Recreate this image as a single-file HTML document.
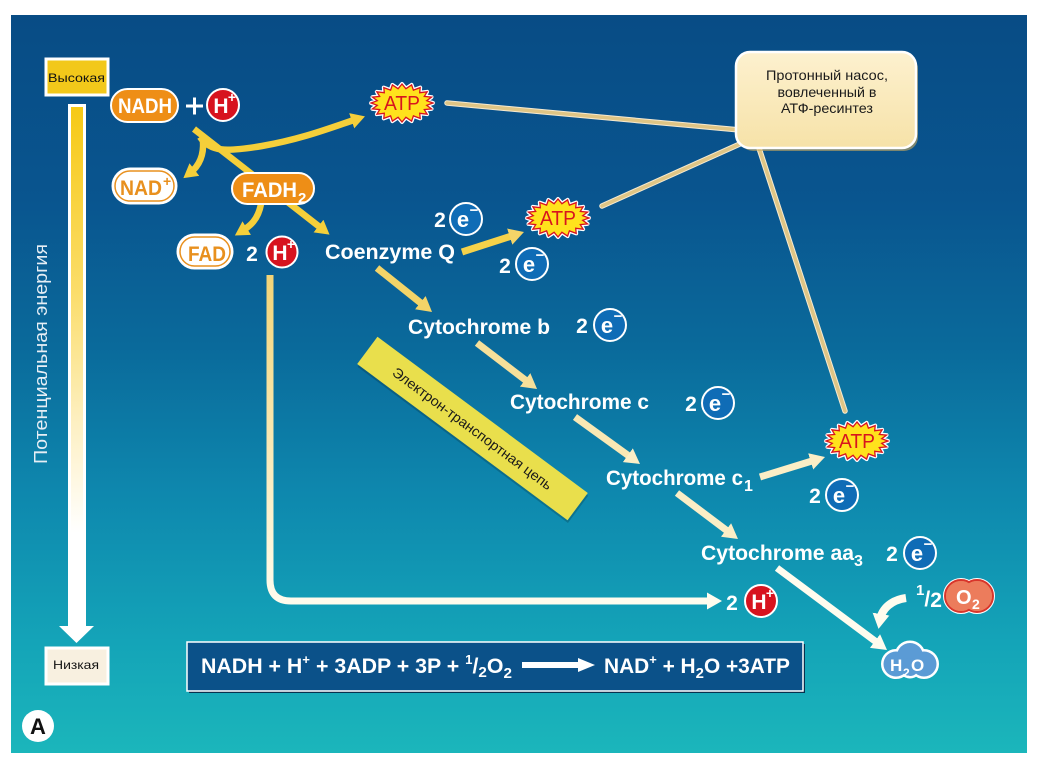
<!DOCTYPE html>
<html><head><meta charset="utf-8"><style>
html,body{margin:0;padding:0;background:#fff;}
svg{display:block;}
text{font-family:"Liberation Sans","DejaVu Sans",sans-serif;}
</style></head><body>
<svg width="1044" height="772" viewBox="0 0 1044 772" xmlns="http://www.w3.org/2000/svg">
<defs>
<linearGradient id="bg" x1="0" y1="15" x2="0" y2="753" gradientUnits="userSpaceOnUse">
<stop offset="0" stop-color="#084c85"/>
<stop offset="0.25" stop-color="#09558f"/>
<stop offset="0.45" stop-color="#0a6a9b"/>
<stop offset="0.65" stop-color="#0e88ae"/>
<stop offset="0.85" stop-color="#14a4b8"/>
<stop offset="1" stop-color="#1bb6bb"/>
</linearGradient>
<linearGradient id="bar" x1="0" y1="104" x2="0" y2="640" gradientUnits="userSpaceOnUse">
<stop offset="0" stop-color="#f6c914"/>
<stop offset="0.35" stop-color="#fbdd6a"/>
<stop offset="0.6" stop-color="#fdf0c4"/>
<stop offset="0.8" stop-color="#ffffff"/>
<stop offset="1" stop-color="#ffffff"/>
</linearGradient>
<linearGradient id="hline" x1="0" y1="275" x2="0" y2="600" gradientUnits="userSpaceOnUse">
<stop offset="0" stop-color="#f3d477"/>
<stop offset="1" stop-color="#fffbec"/>
</linearGradient>
<linearGradient id="call" x1="0" y1="52" x2="0" y2="148" gradientUnits="userSpaceOnUse">
<stop offset="0" stop-color="#fdf1cf"/>
<stop offset="1" stop-color="#f6e2a8"/>
</linearGradient>
<marker id="mY" viewBox="0 0 10 10" refX="4" refY="5" markerWidth="14" markerHeight="16" markerUnits="userSpaceOnUse" orient="auto" preserveAspectRatio="none"><path d="M0,0 L10,5 L0,10 z" fill="#f5cf3a"/></marker>
<marker id="mY2" viewBox="0 0 10 10" refX="4" refY="5" markerWidth="15" markerHeight="17" markerUnits="userSpaceOnUse" orient="auto" preserveAspectRatio="none"><path d="M0,0 L10,5 L0,10 z" fill="#f4d468"/></marker>
<marker id="mC1" viewBox="0 0 10 10" refX="4" refY="5" markerWidth="15" markerHeight="17" markerUnits="userSpaceOnUse" orient="auto" preserveAspectRatio="none"><path d="M0,0 L10,5 L0,10 z" fill="#f7e09a"/></marker>
<marker id="mC2" viewBox="0 0 10 10" refX="4" refY="5" markerWidth="15" markerHeight="17" markerUnits="userSpaceOnUse" orient="auto" preserveAspectRatio="none"><path d="M0,0 L10,5 L0,10 z" fill="#fbeec6"/></marker>
<marker id="mW" viewBox="0 0 10 10" refX="4" refY="5" markerWidth="15" markerHeight="17" markerUnits="userSpaceOnUse" orient="auto" preserveAspectRatio="none"><path d="M0,0 L10,5 L0,10 z" fill="#fffcee"/></marker>
</defs>

<!-- background -->
<rect x="11" y="15" width="1016" height="738" fill="url(#bg)"/>

<!-- potential energy bar -->
<rect x="68" y="104" width="18" height="523" fill="#ffffff"/>
<rect x="71" y="107" width="12" height="520" fill="url(#bar)"/>
<polygon points="59,626 94,626 76.5,643" fill="#ffffff"/>
<text transform="translate(47,354) rotate(-90)" text-anchor="middle" font-size="18" fill="#e6eef5" textLength="220" lengthAdjust="spacingAndGlyphs">Потенциальная энергия</text>

<!-- Высокая / Низкая -->
<rect x="46" y="59" width="62" height="36" fill="#f2c81a" stroke="#ffffff" stroke-width="3"/>
<text x="48" y="82" font-size="12" fill="#111" textLength="57" lengthAdjust="spacingAndGlyphs">Высокая</text>
<rect x="46" y="648" width="62" height="36" fill="#f8f0e0" stroke="#ffffff" stroke-width="3"/>
<text x="53" y="669" font-size="12" fill="#111" textLength="46" lengthAdjust="spacingAndGlyphs">Низкая</text>

<!-- A -->
<circle cx="38" cy="726" r="16" fill="#ffffff"/>
<text x="38" y="734" text-anchor="middle" font-size="22" font-weight="bold" fill="#111">A</text>

<!-- tan lines to callout -->
<g stroke-linecap="round">
<line x1="447" y1="103" x2="740" y2="130" stroke="#f6ead0" stroke-width="5.5"/>
<line x1="602" y1="206" x2="742" y2="143" stroke="#f6ead0" stroke-width="5.5"/>
<line x1="758" y1="145" x2="845" y2="411" stroke="#f6ead0" stroke-width="5.5"/>
<line x1="447" y1="103" x2="740" y2="130" stroke="#dfc585" stroke-width="3.5"/>
<line x1="602" y1="206" x2="742" y2="143" stroke="#dfc585" stroke-width="3.5"/>
<line x1="758" y1="145" x2="845" y2="411" stroke="#dfc585" stroke-width="3.5"/>
</g>

<!-- callout -->
<rect x="739" y="55" width="179" height="96" rx="14" fill="#c9a85c" opacity="0.6"/>
<rect x="736" y="52" width="180" height="96" rx="14" fill="url(#call)" stroke="#ffffff" stroke-width="2.5"/>
<text x="827" y="80" text-anchor="middle" font-size="14" fill="#1a1a1a" textLength="122" lengthAdjust="spacingAndGlyphs">Протонный насос,</text>
<text x="827" y="97" text-anchor="middle" font-size="14" fill="#1a1a1a" textLength="99" lengthAdjust="spacingAndGlyphs">вовлеченный в</text>
<text x="827" y="113" text-anchor="middle" font-size="14" fill="#1a1a1a" textLength="92" lengthAdjust="spacingAndGlyphs">АТФ-ресинтез</text>

<!-- yellow arrows from NADH -->
<g fill="none" stroke-width="6.5" stroke-linecap="butt">
<line x1="194" y1="129" x2="322.9" y2="229.5" stroke="#f5cf3a" marker-end="url(#mY)"/>
<path d="M203,141 C204,156 199,166 190,173" stroke="#f5cf3a" marker-end="url(#mY)"/>
<path d="M200,137 C210,152 226,152 262,146 C302,139 330,128 357,119" stroke="#f5cf3a" marker-end="url(#mY)"/>
</g>

<!-- NADH pill -->
<rect x="111" y="89" width="67" height="33" rx="16.5" fill="#ee8e16" stroke="#ffffff" stroke-width="2"/>
<text x="118" y="113" font-size="21" font-weight="bold" fill="#ffffff" textLength="54" lengthAdjust="spacingAndGlyphs">NADH</text>
<!-- plus -->
<line x1="186" y1="106" x2="203" y2="106" stroke="#ffffff" stroke-width="3"/>
<line x1="194.5" y1="97.5" x2="194.5" y2="114.5" stroke="#ffffff" stroke-width="3"/>
<!-- H+ top -->
<circle cx="223" cy="105" r="16" fill="#d7131f" stroke="#ffffff" stroke-width="2"/>
<text x="221" y="113" text-anchor="middle" font-size="21" font-weight="bold" fill="#ffffff">H</text>
<text x="232" y="102" text-anchor="middle" font-size="14" font-weight="bold" fill="#ffffff">+</text>

<!-- NAD+ pill -->
<rect x="113" y="169" width="63" height="34" rx="17" fill="#ffffff" stroke="#ffffff" stroke-width="3"/>
<rect x="115" y="171" width="59" height="30" rx="15" fill="none" stroke="#e8901e" stroke-width="1.5"/>
<text x="120" y="195" font-size="21" font-weight="bold" fill="#e8901e" textLength="42" lengthAdjust="spacingAndGlyphs">NAD</text>
<text x="163" y="186" font-size="14" font-weight="bold" fill="#e8901e">+</text>

<!-- FADH2 -> FAD arrow -->
<path d="M261,204 C258,220 250,226 242,231" fill="none" stroke="#f5cf3a" stroke-width="6.5" marker-end="url(#mY)"/>

<!-- FADH2 pill -->
<rect x="232" y="173" width="82" height="31" rx="15.5" fill="#ee8e16" stroke="#ffffff" stroke-width="2"/>
<text x="242" y="197" font-size="21" font-weight="bold" fill="#ffffff" textLength="55" lengthAdjust="spacingAndGlyphs">FADH</text>
<text x="298" y="203" font-size="15" font-weight="bold" fill="#ffffff">2</text>

<!-- FAD pill -->
<rect x="178" y="235" width="54" height="33" rx="16.5" fill="#ffffff" stroke="#ffffff" stroke-width="3"/>
<rect x="180" y="237" width="50" height="29" rx="14.5" fill="none" stroke="#e8901e" stroke-width="1.5"/>
<text x="188" y="261" font-size="21" font-weight="bold" fill="#e8901e" textLength="38" lengthAdjust="spacingAndGlyphs">FAD</text>

<!-- 2 H+ near FAD -->
<text x="252" y="261" text-anchor="middle" font-size="21" font-weight="bold" fill="#ffffff">2</text>
<circle cx="282" cy="252" r="15.5" fill="#d7131f" stroke="#ffffff" stroke-width="2"/>
<text x="280" y="260" text-anchor="middle" font-size="21" font-weight="bold" fill="#ffffff">H</text>
<text x="291" y="249" text-anchor="middle" font-size="14" font-weight="bold" fill="#ffffff">+</text>

<!-- H+ line -->
<path d="M270,275 L270,580 Q270,601 291,601 L713,601" fill="none" stroke="url(#hline)" stroke-width="7"/>
<path d="M600,601 L713,601" fill="none" stroke="#fffcee" stroke-width="7" marker-end="url(#mW)"/>

<!-- electron transport arrows -->
<g fill="none" stroke-width="7">
<line x1="462" y1="252" x2="515.4" y2="234.8" stroke="#f6d24a" marker-end="url(#mY2)"/>
<line x1="377" y1="268" x2="425" y2="306.4" stroke="#f4d468" marker-end="url(#mY2)"/>
<line x1="477" y1="343" x2="529.9" y2="383.5" stroke="#f7e09a" marker-end="url(#mC1)"/>
<line x1="575" y1="417" x2="632.7" y2="458.7" stroke="#f9e8b4" marker-end="url(#mC2)"/>
<line x1="677" y1="493" x2="730.8" y2="533.6" stroke="#fbeec6" marker-end="url(#mC2)"/>
<line x1="760" y1="477" x2="816.4" y2="459.6" stroke="#fbeec6" marker-end="url(#mC2)"/>
<line x1="777" y1="568" x2="879.8" y2="644.6" stroke="#fffcee" marker-end="url(#mW)"/>
<path d="M906,598 C892,600 882,608 880,620" stroke="#fffcee" stroke-width="8" marker-end="url(#mW)"/>
</g>

<!-- yellow tilted label -->
<g transform="translate(472.5,428.5) rotate(36.6)">
<rect x="-129" y="-15" width="262" height="34" fill="#000" opacity="0.18"/>
<rect x="-131" y="-17" width="262" height="34" fill="#e9df4c"/>
<text x="0" y="5" text-anchor="middle" font-size="14" fill="#1a1a1a" textLength="195" lengthAdjust="spacingAndGlyphs">Электрон-транспортная цепь</text>
</g>

<!-- ATP starbursts -->
<g transform="translate(402,103)">
<polygon points="31,0 24.7,2.3 29.5,5.9 22.3,6.6 25.1,11.2 17.7,10.3 18.2,15.4 11.4,12.9 9.6,18.1 3.9,14.3 0,19 -3.9,14.3 -9.6,18.1 -11.4,12.9 -18.2,15.4 -17.7,10.3 -25.1,11.2 -22.3,6.6 -29.5,5.9 -24.7,2.3 -31,0 -24.7,-2.3 -29.5,-5.9 -22.3,-6.6 -25.1,-11.2 -17.7,-10.3 -18.2,-15.4 -11.4,-12.9 -9.6,-18.1 -3.9,-14.3 0,-19 3.9,-14.3 9.6,-18.1 11.4,-12.9 18.2,-15.4 17.7,-10.3 25.1,-11.2 22.3,-6.6 29.5,-5.9 24.7,-2.3" fill="#ffffff" stroke="#ffffff" stroke-width="4" stroke-linejoin="round"/>
<polygon points="31,0 24.7,2.3 29.5,5.9 22.3,6.6 25.1,11.2 17.7,10.3 18.2,15.4 11.4,12.9 9.6,18.1 3.9,14.3 0,19 -3.9,14.3 -9.6,18.1 -11.4,12.9 -18.2,15.4 -17.7,10.3 -25.1,11.2 -22.3,6.6 -29.5,5.9 -24.7,2.3 -31,0 -24.7,-2.3 -29.5,-5.9 -22.3,-6.6 -25.1,-11.2 -17.7,-10.3 -18.2,-15.4 -11.4,-12.9 -9.6,-18.1 -3.9,-14.3 0,-19 3.9,-14.3 9.6,-18.1 11.4,-12.9 18.2,-15.4 17.7,-10.3 25.1,-11.2 22.3,-6.6 29.5,-5.9 24.7,-2.3" fill="#ffe21c" stroke="#d8141e" stroke-width="1.3"/>
<text x="0" y="7" text-anchor="middle" font-size="20" fill="#d8141e" textLength="36" lengthAdjust="spacingAndGlyphs">ATP</text>
</g>
<g transform="translate(558,218)">
<polygon points="31,0 24.7,2.3 29.5,5.9 22.3,6.6 25.1,11.2 17.7,10.3 18.2,15.4 11.4,12.9 9.6,18.1 3.9,14.3 0,19 -3.9,14.3 -9.6,18.1 -11.4,12.9 -18.2,15.4 -17.7,10.3 -25.1,11.2 -22.3,6.6 -29.5,5.9 -24.7,2.3 -31,0 -24.7,-2.3 -29.5,-5.9 -22.3,-6.6 -25.1,-11.2 -17.7,-10.3 -18.2,-15.4 -11.4,-12.9 -9.6,-18.1 -3.9,-14.3 0,-19 3.9,-14.3 9.6,-18.1 11.4,-12.9 18.2,-15.4 17.7,-10.3 25.1,-11.2 22.3,-6.6 29.5,-5.9 24.7,-2.3" fill="#ffffff" stroke="#ffffff" stroke-width="4" stroke-linejoin="round"/>
<polygon points="31,0 24.7,2.3 29.5,5.9 22.3,6.6 25.1,11.2 17.7,10.3 18.2,15.4 11.4,12.9 9.6,18.1 3.9,14.3 0,19 -3.9,14.3 -9.6,18.1 -11.4,12.9 -18.2,15.4 -17.7,10.3 -25.1,11.2 -22.3,6.6 -29.5,5.9 -24.7,2.3 -31,0 -24.7,-2.3 -29.5,-5.9 -22.3,-6.6 -25.1,-11.2 -17.7,-10.3 -18.2,-15.4 -11.4,-12.9 -9.6,-18.1 -3.9,-14.3 0,-19 3.9,-14.3 9.6,-18.1 11.4,-12.9 18.2,-15.4 17.7,-10.3 25.1,-11.2 22.3,-6.6 29.5,-5.9 24.7,-2.3" fill="#ffe21c" stroke="#d8141e" stroke-width="1.3"/>
<text x="0" y="7" text-anchor="middle" font-size="20" fill="#d8141e" textLength="36" lengthAdjust="spacingAndGlyphs">ATP</text>
</g>
<g transform="translate(857,441)">
<polygon points="31,0 24.7,2.3 29.5,5.9 22.3,6.6 25.1,11.2 17.7,10.3 18.2,15.4 11.4,12.9 9.6,18.1 3.9,14.3 0,19 -3.9,14.3 -9.6,18.1 -11.4,12.9 -18.2,15.4 -17.7,10.3 -25.1,11.2 -22.3,6.6 -29.5,5.9 -24.7,2.3 -31,0 -24.7,-2.3 -29.5,-5.9 -22.3,-6.6 -25.1,-11.2 -17.7,-10.3 -18.2,-15.4 -11.4,-12.9 -9.6,-18.1 -3.9,-14.3 0,-19 3.9,-14.3 9.6,-18.1 11.4,-12.9 18.2,-15.4 17.7,-10.3 25.1,-11.2 22.3,-6.6 29.5,-5.9 24.7,-2.3" fill="#ffffff" stroke="#ffffff" stroke-width="4" stroke-linejoin="round"/>
<polygon points="31,0 24.7,2.3 29.5,5.9 22.3,6.6 25.1,11.2 17.7,10.3 18.2,15.4 11.4,12.9 9.6,18.1 3.9,14.3 0,19 -3.9,14.3 -9.6,18.1 -11.4,12.9 -18.2,15.4 -17.7,10.3 -25.1,11.2 -22.3,6.6 -29.5,5.9 -24.7,2.3 -31,0 -24.7,-2.3 -29.5,-5.9 -22.3,-6.6 -25.1,-11.2 -17.7,-10.3 -18.2,-15.4 -11.4,-12.9 -9.6,-18.1 -3.9,-14.3 0,-19 3.9,-14.3 9.6,-18.1 11.4,-12.9 18.2,-15.4 17.7,-10.3 25.1,-11.2 22.3,-6.6 29.5,-5.9 24.7,-2.3" fill="#ffe21c" stroke="#d8141e" stroke-width="1.3"/>
<text x="0" y="7" text-anchor="middle" font-size="20" fill="#d8141e" textLength="36" lengthAdjust="spacingAndGlyphs">ATP</text>
</g>

<!-- Compound labels -->
<g font-size="21" font-weight="bold" fill="#ffffff">
<text x="325" y="259" textLength="130" lengthAdjust="spacingAndGlyphs">Coenzyme Q</text>
<text x="408" y="334" textLength="142" lengthAdjust="spacingAndGlyphs">Cytochrome b</text>
<text x="510" y="409" textLength="139" lengthAdjust="spacingAndGlyphs">Cytochrome c</text>
<text x="606" y="485" textLength="137" lengthAdjust="spacingAndGlyphs">Cytochrome c</text>
<text x="744" y="491" font-size="16">1</text>
<text x="701" y="560" textLength="153" lengthAdjust="spacingAndGlyphs">Cytochrome aa</text>
<text x="854" y="566" font-size="16">3</text>
</g>

<!-- 2 e- labels -->
<g font-weight="bold" fill="#ffffff">
<text x="440" y="227" text-anchor="middle" font-size="21">2</text>
<text x="505" y="273" text-anchor="middle" font-size="21">2</text>
<text x="582" y="333" text-anchor="middle" font-size="21">2</text>
<text x="691" y="411" text-anchor="middle" font-size="21">2</text>
<text x="815" y="503" text-anchor="middle" font-size="21">2</text>
<text x="892" y="561" text-anchor="middle" font-size="21">2</text>
</g>
<g>
<circle cx="466" cy="219" r="16" fill="#0f6cb6" stroke="#ffffff" stroke-width="2"/>
<circle cx="532" cy="264" r="16" fill="#0f6cb6" stroke="#ffffff" stroke-width="2"/>
<circle cx="610" cy="325" r="16" fill="#0f6cb6" stroke="#ffffff" stroke-width="2"/>
<circle cx="718" cy="403" r="16" fill="#0f6cb6" stroke="#ffffff" stroke-width="2"/>
<circle cx="842" cy="495" r="16" fill="#0f6cb6" stroke="#ffffff" stroke-width="2"/>
<circle cx="920" cy="553" r="16" fill="#0f6cb6" stroke="#ffffff" stroke-width="2"/>
</g>
<g font-weight="bold" fill="#ffffff" text-anchor="middle">
<text x="463" y="227" font-size="22">e</text><text x="474" y="215" font-size="15">−</text>
<text x="529" y="272" font-size="22">e</text><text x="540" y="260" font-size="15">−</text>
<text x="607" y="333" font-size="22">e</text><text x="618" y="321" font-size="15">−</text>
<text x="715" y="411" font-size="22">e</text><text x="726" y="399" font-size="15">−</text>
<text x="839" y="503" font-size="22">e</text><text x="850" y="491" font-size="15">−</text>
<text x="917" y="561" font-size="22">e</text><text x="928" y="549" font-size="15">−</text>
</g>

<!-- bottom 2 H+ -->
<text x="732" y="610" text-anchor="middle" font-size="21" font-weight="bold" fill="#ffffff">2</text>
<circle cx="761" cy="601" r="16" fill="#d7131f" stroke="#ffffff" stroke-width="2"/>
<text x="759" y="609" text-anchor="middle" font-size="21" font-weight="bold" fill="#ffffff">H</text>
<text x="770" y="598" text-anchor="middle" font-size="14" font-weight="bold" fill="#ffffff">+</text>

<!-- 1/2 O2 -->
<text x="916" y="606" font-size="21" font-weight="bold" fill="#ffffff"><tspan y="595" font-size="15">1</tspan><tspan y="606">/</tspan><tspan y="607">2</tspan></text>
<g>
<circle cx="961" cy="596" r="16" fill="#ffffff" stroke="#ffffff" stroke-width="4"/>
<circle cx="977" cy="596" r="16" fill="#ffffff" stroke="#ffffff" stroke-width="4"/>
<circle cx="961" cy="596" r="16" fill="#ec7c5c" stroke="#d8352b" stroke-width="2"/>
<circle cx="977" cy="596" r="16" fill="#ec7c5c" stroke="#d8352b" stroke-width="2"/>
<circle cx="961" cy="596" r="15" fill="#ec7c5c"/>
<circle cx="977" cy="596" r="15" fill="#ec7c5c"/>
<text x="956" y="604" font-size="20" font-weight="bold" fill="#ffffff">O</text>
<text x="972" y="609" font-size="14" font-weight="bold" fill="#ffffff">2</text>
</g>

<!-- H2O cloud -->
<g>
<circle cx="896" cy="664" r="13.5" fill="#ffffff" stroke="#ffffff" stroke-width="3"/>
<circle cx="924" cy="664" r="13.5" fill="#ffffff" stroke="#ffffff" stroke-width="3"/>
<circle cx="910" cy="656" r="14" fill="#ffffff" stroke="#ffffff" stroke-width="3"/>
<circle cx="910" cy="667" r="10" fill="#ffffff" stroke="#ffffff" stroke-width="3"/>
<circle cx="896" cy="664" r="12.5" fill="#5b9bd5"/>
<circle cx="924" cy="664" r="12.5" fill="#5b9bd5"/>
<circle cx="910" cy="656" r="13" fill="#5b9bd5"/>
<circle cx="910" cy="667" r="9" fill="#5b9bd5"/>
<text x="890" y="671" font-size="17" font-weight="bold" fill="#ffffff">H</text>
<text x="903" y="677" font-size="12" font-weight="bold" fill="#ffffff">2</text>
<text x="911" y="671" font-size="17" font-weight="bold" fill="#ffffff">O</text>
</g>

<!-- equation box -->
<rect x="189" y="644" width="616" height="49" fill="#06314f"/>
<rect x="187" y="642" width="616" height="49" fill="#0b5189" stroke="#ffffff" stroke-width="1.5"/>
<text x="201" y="673" font-size="21" font-weight="bold" fill="#ffffff" textLength="311" lengthAdjust="spacingAndGlyphs">NADH + H<tspan y="664" font-size="13">+</tspan><tspan y="673"> + 3ADP + 3P + </tspan><tspan y="664" font-size="13">1</tspan><tspan y="673">/</tspan><tspan y="677" font-size="15">2</tspan><tspan y="673">O</tspan><tspan y="678" font-size="15">2</tspan></text>
<rect x="522" y="662" width="58" height="6" fill="#ffffff"/>
<polygon points="578,658 595,665 578,672" fill="#ffffff"/>
<text x="604" y="673" font-size="21" font-weight="bold" fill="#ffffff" textLength="186" lengthAdjust="spacingAndGlyphs">NAD<tspan y="664" font-size="13">+</tspan><tspan y="673"> + H</tspan><tspan y="678" font-size="15">2</tspan><tspan y="673">O +3ATP</tspan></text>
</svg>
</body></html>
